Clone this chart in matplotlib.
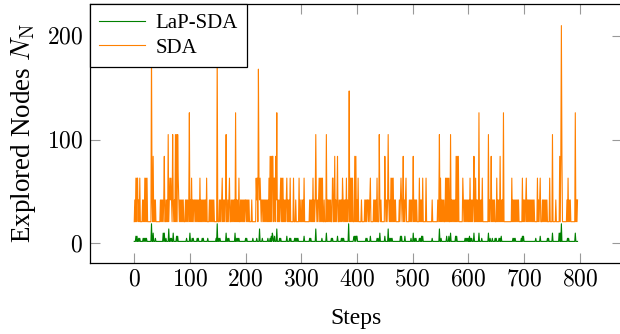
import numpy as np
import matplotlib
matplotlib.use('Agg')
import matplotlib.pyplot as plt
from matplotlib.ticker import FuncFormatter

plt.rcParams['font.family'] = ['Liberation Serif', 'DejaVu Serif']
plt.rcParams['mathtext.fontset'] = 'cm'

# explored nodes per step, one character per step
# SDA: code k -> SDA_LEVELS[k]
SDA_LEVELS = [21, 42, 63, 84, 105, 126, 147, 168, 189, 210]
SDA_CODES = (
    "01020220102000010102020200000008103010100000000101"    # 0-49
    "01013001010401212104101040404210101010100010101015"    # 50-99
    "01020101101010101020101010101020000101010101000008"    # 100-149
    "00010101201010140010120010101010501010200101010101"    # 150-199
    "10101010000100000002120721210110101010101020303033"    # 200-249
    "02203150101012020201010120101020000020001000002010"    # 250-299
    "01010200000000010101020101410101202020200100040101"    # 300-349
    "01010022003010130010101021010102010160202020003030"    # 350-399
    "10200000100000101011010120000010101020004101000000"    # 400-449
    "31010141010202020101000000101210130101200000101010"    # 450-499
    "13010101000020101020000020000000000100000000010140"    # 500-549
    "20101010020202020040101010103030300000002101010101"    # 550-599
    "01020101013002010105010102000000000040101301010100"    # 600-649
    "02010103010105000000000000002010101010101000000201"    # 650-699
    "01012010101010101010000020101200010101010100002000"    # 700-749
    "04000001000000303930000000010201010000000050101"       # 750-796
)
# LaP-SDA: code k -> LAP_LEVELS[k]
LAP_LEVELS = [2, 5, 7, 10, 14, 19]
LAP_CODES = (
    "00020200101000001010101000000005003000100000000000"    # 0-49
    "00303001000040010100300000202000000000000000100000"    # 50-99
    "30001010000001010000001010000000100000000000000105"    # 100-149
    "00101000000000030010100000000003001010100000000000"    # 150-199
    "10100000000001000000100004000010000000001000102032"    # 200-249
    "00200040000101000000000020000101000000101010100000"    # 250-299
    "00000200000000010100000000400000000001000000030000"    # 300-349
    "00001010000000020000001010100000000500000000120202"    # 350-399
    "20000000000000001010000020000000000010100300000000"    # 400-449
    "20000040010101000000000000002020000020000000000100"    # 450-499
    "03001010000010102020000000000000000100000000000040"    # 500-549
    "01000000000200020030000000020200000000000000101010"    # 550-599
    "10201010003000000003000010000000000030010001000010"    # 600-649
    "10000101020000000000000000000010101000000000010202"    # 650-699
    "00000000000000000000010000000200000000000010100000"    # 700-749
    "03000000000003030500000000001010000000000030000"       # 750-796
)

sda = np.array([SDA_LEVELS[int(c)] for c in SDA_CODES])
lap = np.array([LAP_LEVELS[int(c)] for c in LAP_CODES])

fig = plt.figure(figsize=(6.2, 3.34), dpi=100)
ax = fig.add_axes([0.145, 0.2126, 0.858, 0.7754])

ax.plot(np.arange(len(lap)), lap, color='#008000', lw=0.8, label='LaP-SDA')
ax.plot(np.arange(len(sda)), sda, color='#ff8000', lw=0.8, label='SDA')

ax.set_xlim(-79.6, 875.6)
ax.set_ylim(-18.8, 230.8)
ax.set_xticks(range(0, 801, 100))
ax.set_yticks([0, 100, 200])
fmt = FuncFormatter(lambda v, p: '$%d$' % v)
ax.xaxis.set_major_formatter(fmt)
ax.yaxis.set_major_formatter(fmt)
ax.tick_params(direction='in', length=7, width=0.8, color='#999999',
               top=True, right=True, labelsize=17, pad=5)
for s in ax.spines.values():
    s.set_linewidth(0.9)

ax.set_xlabel('Steps', fontsize=17, labelpad=12)
ax.set_ylabel(r'Explored Nodes $N_\mathrm{N}$', fontsize=19.5, labelpad=6)

leg = ax.legend(loc='upper left', bbox_to_anchor=(0, 1), borderaxespad=0,
                fancybox=False, edgecolor='black', framealpha=1, fontsize=15,
                handlelength=2.2, handletextpad=0.5, borderpad=0.45,
                labelspacing=0.25)
leg.get_frame().set_linewidth(0.9)

fig.savefig('out.png', dpi=100)
